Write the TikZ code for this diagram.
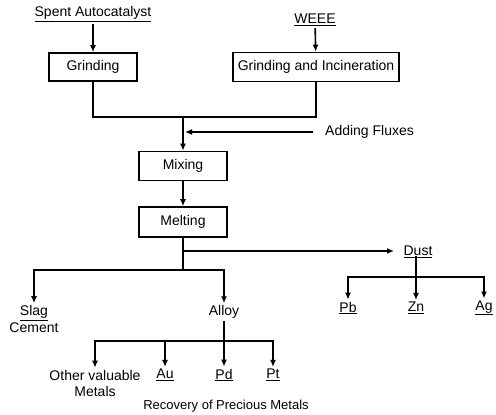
\documentclass[tikz,border=0pt]{standalone}
\usepackage{fontspec}
\setmainfont{Liberation Sans}
\usetikzlibrary{arrows.meta}
\begin{document}
\begin{tikzpicture}[x=1pt,y=-1pt,
  every node/.style={font=\fontsize{14}{16}\selectfont, inner sep=2pt},
  procbox/.style={draw, line width=1.6pt, minimum width=88pt, minimum height=28pt, inner sep=0pt},
  conn/.style={line width=1.6pt},
  arr/.style={line width=1.6pt, -{Latex[length=7pt,width=6pt]}},
  lbl/.style={align=center}]
\useasboundingbox (0,0) rectangle (496,415);
% inputs
\node (spent) at (93,14) {\underline{Spent Autocatalyst}};
\node (weee) at (315,20) {\underline{WEEE}};
\node[procbox] (grind) at (93,67) {Grinding};
\node[procbox, minimum width=166pt, minimum height=29pt] (gi) at (316,67) {Grinding and Incineration};
\draw[arr] (spent) -- (grind);
\draw[arr] (weee) -- (gi);
% merge
\coordinate (join) at (183,117);
\draw[conn] (grind.south) |- (join) -| (gi.south);
\node[procbox, minimum height=29pt] (mix) at (183,166) {Mixing};
\node[procbox, minimum height=30pt] (melt) at (183,222) {Melting};
\draw[arr] (join) -- (mix);
\node[anchor=west, inner sep=0pt] (flux) at (325,132) {Adding Fluxes};
\coordinate (fluxstart) at (313,132);
\draw[arr] (fluxstart) -- ([xshift=2pt]fluxstart -| mix.north);
\draw[arr] (mix) -- (melt);
% melting outputs
\coordinate (s1) at (183,270);
\draw[conn] (melt.south) -- (s1);
\node[inner sep=0pt] (dust) at (418,252) {\underline{Dust}};
\coordinate (dustend) at (394,251);
\draw[arr] (melt.south |- dustend) -- (dustend);
\node[lbl] (slag) at (34,319) {\underline{Slag}\\[1pt]Cement};
\node (alloy) at (224,312) {Alloy};
\draw[arr] (s1) -| (slag);
\draw[arr] (s1) -| (alloy);
% dust products
\coordinate (d1) at (416,277);
\draw[conn] ([yshift=2pt]dust.south -| d1) -- (d1);
\node (pb) at (348,308) {\underline{Pb}};
\node (zn) at (416,308) {\underline{Zn}};
\node (ag) at (484,308) {\underline{Ag}};
\draw[arr] (d1) -| (pb);
\draw[arr] (d1) -- (zn);
\draw[arr] (d1) -| (ag);
% alloy products
\coordinate (a1) at (224,341);
\draw[conn] (alloy) -- (a1);
\node[lbl] (other) at (95,383) {Other valuable\\Metals};
\node (au) at (165,375) {\underline{Au}};
\node (pd) at (224,375) {\underline{Pd}};
\node (pt) at (273,375) {\underline{Pt}};
\draw[arr] (a1) -| (other);
\draw[arr] (a1) -| (au);
\draw[arr] (a1) -- (pd);
\draw[arr] (a1) -| (pt);
\node[font=\fontsize{13}{15}\selectfont] (rec) at (226,406) {Recovery of Precious Metals};
\end{tikzpicture}
\end{document}
